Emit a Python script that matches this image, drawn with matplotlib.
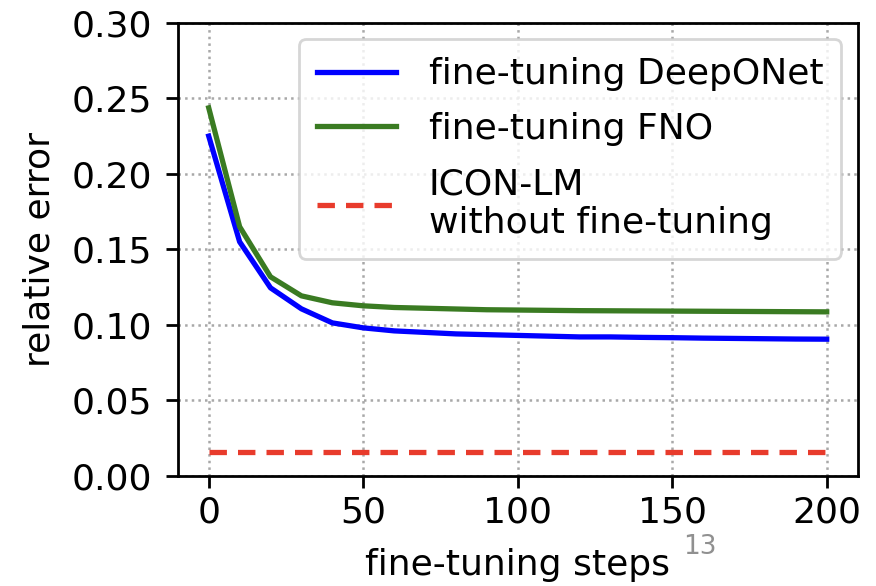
import matplotlib
matplotlib.use('Agg')
import matplotlib.pyplot as plt

# 数据：横轴为微调步数
steps = [0, 10, 20, 30, 40, 50, 60, 70, 80, 90, 100,
         110, 120, 130, 140, 150, 160, 170, 180, 190, 200]
deeponet = [0.225, 0.155, 0.1245, 0.1106, 0.1013, 0.098, 0.096, 0.095, 0.094, 0.0935, 0.093,
            0.0925, 0.092, 0.092, 0.0917, 0.0915, 0.0912, 0.091, 0.0908, 0.0906, 0.0905]
fno = [0.2437, 0.165, 0.1318, 0.1192, 0.1146, 0.1126, 0.1115, 0.111, 0.1105, 0.110, 0.1098,
       0.1096, 0.1094, 0.1093, 0.1092, 0.1091, 0.109, 0.1089, 0.1088, 0.1087, 0.1086]
icon_lm = 0.016

fs = 26

fig = plt.figure(figsize=(8.76, 5.86), dpi=100)
ax = fig.add_axes([0.203, 0.188, 0.776, 0.773])

ax.plot(steps, deeponet, color='#0000ff', lw=3.8, label='fine-tuning DeepONet')
ax.plot(steps, fno, color='#3a7b22', lw=3.8, label='fine-tuning FNO')
ax.plot([steps[0], steps[-1]], [icon_lm, icon_lm], color='#e83b2c', lw=3.8,
        ls=(0, (3.3, 2.1)), label='ICON-LM\nwithout fine-tuning')

ax.set_xlim(-10, 210)
ax.set_ylim(0, 0.30)
ax.set_xticks([0, 50, 100, 150, 200])
ax.set_yticks([0.0, 0.05, 0.10, 0.15, 0.20, 0.25, 0.30])
ax.set_yticklabels(['0.00', '0.05', '0.10', '0.15', '0.20', '0.25', '0.30'])
ax.tick_params(labelsize=fs, length=8.5, width=2, direction='out')
ax.tick_params(axis='x', pad=6)
ax.tick_params(axis='y', pad=10)
for s in ax.spines.values():
    s.set_linewidth(2)

ax.grid(True, ls=':', color='#a8a8a8', lw=1.8)
ax.set_xlabel('fine-tuning steps', fontsize=fs, labelpad=13)
ax.set_ylabel('relative error', fontsize=fs, labelpad=11)

leg = ax.legend(loc='upper right', fontsize=fs, handlelength=2.2,
                borderaxespad=0.45, labelspacing=0.58, handletextpad=0.9,
                borderpad=0.5)
leg.get_frame().set_linewidth(2)

# 页码
fig.text(0.799, 0.067, '13', fontsize=19, color='#909090', ha='center', va='center')

fig.savefig('out.png', dpi=100)
